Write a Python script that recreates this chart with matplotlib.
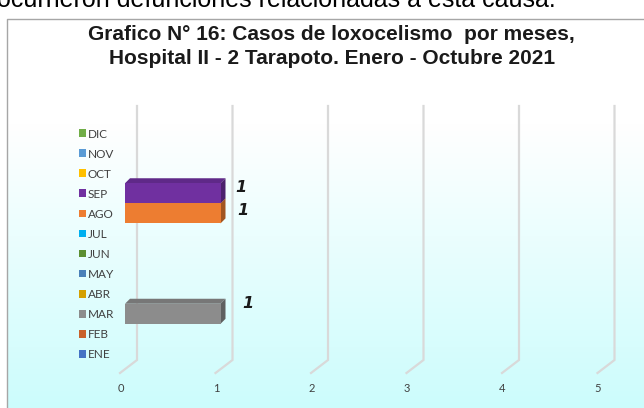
import matplotlib
matplotlib.use('Agg')
import matplotlib.pyplot as plt
import numpy as np
from matplotlib.patches import Polygon
from matplotlib import transforms as mtransforms
from matplotlib import font_manager as fm
from matplotlib.colors import to_rgb

# ---------------- data ----------------
months = ['ENE', 'FEB', 'MAR', 'ABR', 'MAY', 'JUN', 'JUL', 'AGO', 'SEP', 'OCT', 'NOV', 'DIC']
cases = [0, 0, 1, 0, 0, 0, 0, 1, 1, 0, 0, 0]
month_colors = ['#4472C4', '#C8612A', '#8C8C8C', '#D4A000', '#4A80B8', '#5B8F32',
                '#00B0F0', '#ED7D31', '#7030A0', '#FFC000', '#5B9BD5', '#70AD47']
x_ticks = [0, 1, 2, 3, 4, 5]
title_lines = ["Grafico N° 16: Casos de loxocelismo  por meses,",
               "Hospital II - 2 Tarapoto. Enero - Octubre 2021"]
top_text = "ocurrieron defunciones relacionadas a esta causa."

# ---------------- layout ----------------
W, H = 644, 408
fig = plt.figure(figsize=(W / 100, H / 100), dpi=100)

avail = {f.name for f in fm.fontManager.ttflist}
title_font = 'Liberation Sans Narrow' if 'Liberation Sans Narrow' in avail else 'Liberation Sans'
label_font = 'Lato' if 'Lato' in avail else 'DejaVu Sans'

# background (chart area with gradient + border)
bg = fig.add_axes([0, 0, 1, 1], zorder=-10)
bg.set_xlim(0, W)
bg.set_ylim(H, 0)
bg.axis('off')
rows = np.linspace(18, 410, 400)
t = np.clip((rows - 125) / (408 - 125), 0, 1)
img = np.ones((len(rows), 1, 3))
img[:, 0, 0] = 1 - t * (1 - 0.80)
img[:, 0, 1] = 1 - t * (1 - 0.99)
img[:, 0, 2] = 1 - t * (1 - 0.99)
bg.imshow(img, extent=(7.5, 650, 410, 18), aspect='auto', interpolation='bilinear')
bg.set_xlim(0, W)
bg.set_ylim(H, 0)
bg.plot([7.5, 7.5, 650], [410, 18.5, 18.5], color='#A6A6A6', lw=1.0)

bg.text(-3, 7, top_text, fontsize=18, family='Liberation Sans', va='baseline',
        ha='left', color='black')
bg.text(331, 40, title_lines[0], fontsize=15, family=title_font, weight='bold',
        ha='center', va='baseline', color='#1a1a1a')
bg.text(332, 64, title_lines[1], fontsize=15, family=title_font, weight='bold',
        ha='center', va='baseline', color='#1a1a1a')

# main axes (front plane of the bars)
ax_left, ax_bottom, ax_top = 125, 364, 123
px_x = 95.5
ax_w = px_x * 5
ax_h = ax_bottom - ax_top
ax = fig.add_axes([ax_left / W, 1 - ax_bottom / H, ax_w / W, ax_h / H])
ax.set_xlim(0, 5)
ax.set_ylim(-0.5, 11.5)
ax.patch.set_visible(False)
for s in ax.spines.values():
    s.set_visible(False)
px_y = ax_h / 12.0

# 3-D walls gridlines
grid_c = '#D9D9D9'
yb = -0.5 + (ax_bottom - 360) / px_y
yt = -0.5 + (ax_bottom - 106) / px_y
yf = -0.5 - (373 - ax_bottom) / px_y
for v in x_ticks:
    xb = v + 12 / px_x
    xf = v - 5 / px_x
    ax.plot([xb, xb, xf], [yt, yb, yf], color=grid_c, lw=1.6, clip_on=False,
            zorder=1, solid_joinstyle='miter')
    ax.text(v - 4.5 / px_x, -0.5 - (389 - ax_bottom) / px_y, str(v),
            ha='center', va='center', fontsize=8, family=label_font,
            color='#404040', clip_on=False)

# y labels + colour squares
ax.set_xticks([])
ax.set_yticks(range(len(months)), labels=months)
ax.tick_params(axis='y', length=0, pad=37 * 0.72, labelsize=8.5, labelcolor='#404040')
for lab in ax.get_yticklabels():
    lab.set_ha('left')
    lab.set_family(label_font)
sq_tr = ax.get_yaxis_transform() + mtransforms.ScaledTranslation(-42.5 / 100, 0, fig.dpi_scale_trans)
ax.scatter([0] * len(months), range(len(months)), transform=sq_tr, marker='s',
           s=30, c=month_colors, clip_on=False, linewidths=0)

# 3-D bars
dx = 5 / px_x
dy = 5 / px_y
label_offsets = {2: (27.5, 10), 7: (22.5, 3), 8: (20.5, 6)}


def shade(c, f):
    r, g, b = to_rgb(c)
    return (r * f, g * f, b * f)


for i, (v, c) in enumerate(zip(cases, month_colors)):
    if v == 0:
        continue
    z = 3 + i * 0.1
    top = Polygon([(0, i + 0.5), (v, i + 0.5), (v + dx, i + 0.5 + dy), (dx, i + 0.5 + dy)],
                  closed=True, facecolor=shade(c, 0.85), edgecolor='none', zorder=z)
    side = Polygon([(v, i - 0.5), (v, i + 0.5), (v + dx, i + 0.5 + dy), (v + dx, i - 0.5 + dy)],
                   closed=True, facecolor=shade(c, 0.68), edgecolor='none', zorder=z)
    ax.add_patch(top)
    ax.add_patch(side)
    ax.barh(i, v, height=1.0, color=c, zorder=z + 0.01, linewidth=0)
    ox, oy = label_offsets.get(i, (22, 4))
    ax.annotate(str(v), xy=(v, i), xytext=(ox, oy), textcoords='offset pixels',
                ha='center', va='center', fontsize=11.5, weight='bold', style='italic',
                family='DejaVu Sans', color='#1a1a1a', annotation_clip=False)

fig.savefig('out.png', dpi=100)
